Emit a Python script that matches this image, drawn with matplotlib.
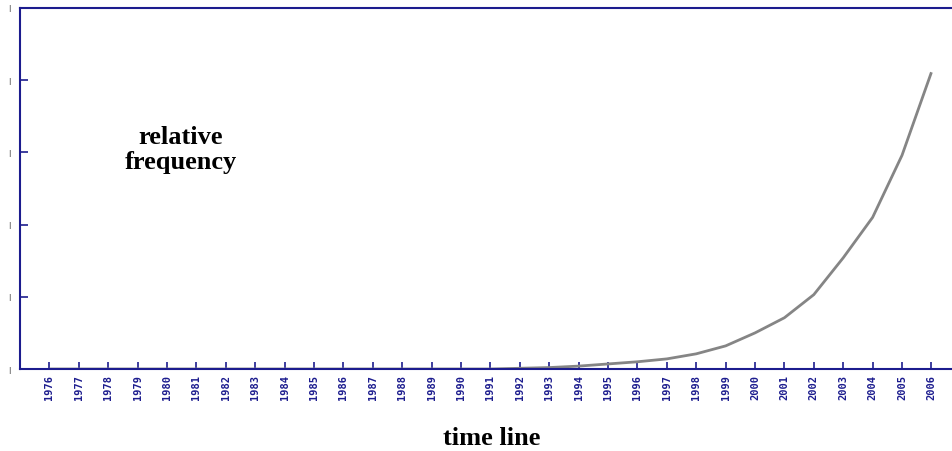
import matplotlib.pyplot as plt
import numpy as np

years = list(range(1976, 2007))
freq = [0.0] * 16 + [0.01, 0.02, 0.04, 0.07, 0.10, 0.14, 0.21, 0.32,
                     0.50, 0.71, 1.03, 1.54, 2.10, 2.96, 4.11]
y_ticks = [0, 1, 2, 3, 4, 5]
y_labels = ['|'] * 6

navy = '#1c1c8e'

fig = plt.figure(figsize=(9.52, 4.51), dpi=100)
ax = fig.add_axes([20 / 952, 1 - 369 / 451, 1 - 20 / 952, (369 - 8) / 451])

ax.plot(years, freq, color='#858585', lw=2.0, solid_capstyle='butt')

ax.set_xlim(1975.0, 2006.7)
ax.set_ylim(0, 5)

ax.set_xticks(years)
ax.set_xticklabels([str(y) for y in years], rotation=90, color=navy,
                   fontsize=7.5, family='DejaVu Sans Mono', fontweight='bold')
ax.set_yticks(y_ticks)
ax.set_yticklabels(y_labels, fontsize=5, color='#222222')

ax.tick_params(axis='x', direction='in', length=5, width=1.2, color=navy, pad=4)
ax.tick_params(axis='y', direction='in', length=6, width=1.2, color=navy, pad=7)

for s in ['left', 'top', 'bottom']:
    ax.spines[s].set_color(navy)
    ax.spines[s].set_linewidth(1.5)
ax.spines['right'].set_visible(False)

fig.text(181 / 952, 1 - 150 / 451, 'relative\nfrequency', ha='center', va='center',
         family='Liberation Serif', fontweight='bold', fontsize=19, linespacing=1.1)
fig.text(492 / 952, 1 - 445 / 451, 'time line', ha='center', va='baseline',
         family='Liberation Serif', fontweight='bold', fontsize=19)

fig.savefig('out.png', dpi=100)
